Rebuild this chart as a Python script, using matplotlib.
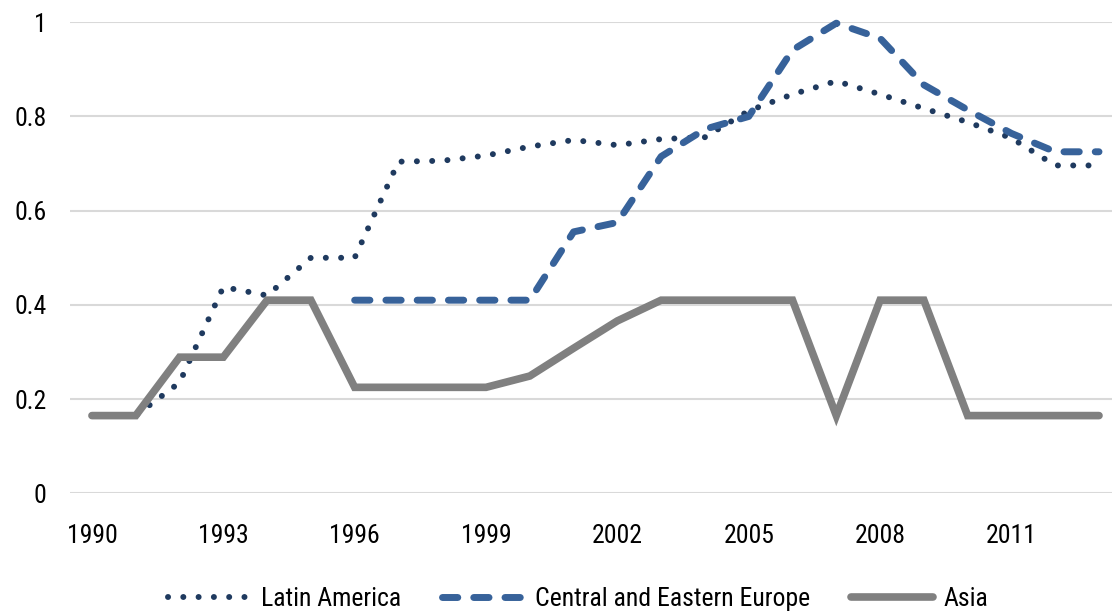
import numpy as np
import matplotlib
matplotlib.use("Agg")
import matplotlib.pyplot as plt
from matplotlib.ticker import FuncFormatter

# данные
years = list(range(1990, 2014))
latin_america = [0.165, 0.165, 0.235, 0.438, 0.42, 0.50, 0.50, 0.704, 0.706, 0.717,
                 0.736, 0.75, 0.739, 0.752, 0.756, 0.812, 0.847, 0.875, 0.847, 0.817,
                 0.788, 0.754, 0.696, 0.696]
# Central and Eastern Europe starts in 1996
cee_years = list(range(1996, 2014))
cee = [0.41, 0.41, 0.41, 0.41, 0.41, 0.555, 0.575, 0.715, 0.773, 0.80,
       0.941, 0.998, 0.966, 0.867, 0.814, 0.764, 0.725, 0.725]
asia = [0.165, 0.165, 0.289, 0.289, 0.41, 0.41, 0.225, 0.225, 0.225, 0.225,
        0.249, 0.308, 0.366, 0.41, 0.41, 0.41, 0.41, 0.165, 0.41, 0.41,
        0.165, 0.165, 0.165, 0.165]
xticks = list(range(1990, 2012, 3))
yticks = [0, 0.2, 0.4, 0.6, 0.8, 1.0]

plt.rcParams['font.family'] = ['Roboto Condensed', 'Liberation Sans Narrow',
                               'Liberation Sans', 'DejaVu Sans']

fig = plt.figure(figsize=(11.12, 6.11), dpi=100)
ax = fig.add_axes([0.063, 0.1926, 0.945, 0.771])

ax.plot(years, latin_america, color='#1f3a5f', lw=4.3,
        linestyle=(0, (0.01, 2.55)), dash_capstyle='round', clip_on=False,
        label='Latin America')
ax.plot(cee_years, cee, color='#37629a', lw=5,
        linestyle=(0, (2.2, 2.3)), dash_capstyle='round', clip_on=False,
        label='Central and Eastern Europe')
ax.plot(years, asia, color='#808080', lw=5.5, solid_capstyle='round',
        solid_joinstyle='miter', clip_on=False, label='Asia')

ax.set_xlim(1989.5, 2013.5)
ax.set_ylim(0, 1)
ax.set_xticks(xticks)
ax.set_yticks(yticks)
ax.yaxis.set_major_formatter(FuncFormatter(lambda v, p: f'{v:g}'))
ax.tick_params(axis='both', length=0, labelsize=18.5)
ax.tick_params(axis='y', pad=17)
ax.tick_params(axis='x', pad=22)
ax.grid(axis='y', color='#d9d9d9', lw=1.5)
ax.set_axisbelow(True)
for s in ax.spines.values():
    s.set_visible(False)

fig.legend(loc='center', bbox_to_anchor=(0.52, 0.02), ncol=3, frameon=False,
           fontsize=18.5, handlelength=3.2, handletextpad=0.4, columnspacing=1.6)

fig.savefig('out.png', dpi=100)
